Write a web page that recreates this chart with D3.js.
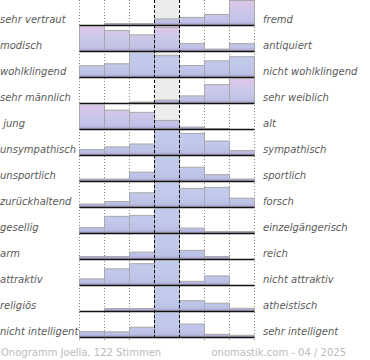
<!DOCTYPE html>
<html><head><meta charset="utf-8">
<script src="https://cdn.jsdelivr.net/npm/d3@7"></script>
<style>body{margin:0;background:#fff}svg{display:block}text{white-space:pre}</style>
</head><body><div id="chart"></div>
<script>
const leftLabels = ["sehr vertraut","modisch","wohlklingend","sehr männlich"," jung","unsympathisch","unsportlich","zurückhaltend","gesellig","arm","attraktiv","religiös","nicht intelligent"];
const rightLabels = ["fremd","antiquiert","nicht wohlklingend","sehr weiblich","alt","sympathisch","sportlich","forsch","einzelgängerisch","reich","nicht attraktiv","atheistisch","sehr intelligent"];
const bins = [0,1,2,3,4,5,6];
// relative bar heights per row (100 = most chosen answer of that row)
const row0 = [0, 6, 6, 25, 31, 43, 100];
const row1 = [100, 84, 66, 97, 31, 8, 30];
const row2 = [46, 54, 100, 87, 47, 66, 83];
const row3 = [0, 0, 4, 12, 29, 75, 100];
const row4 = [100, 77, 68, 35, 8, 2, 0];
const row5 = [22, 33, 45, 100, 88, 57, 18];
const row6 = [8, 8, 36, 100, 56, 26, 8];
const row7 = [12, 22, 58, 100, 76, 80, 36];
const row8 = [22, 68, 72, 100, 20, 6, 6];
const row9 = [10, 10, 28, 100, 35, 10, 0];
const row10 = [25, 66, 87, 100, 15, 37, 0];
const row11 = [0, 10, 10, 100, 42, 32, 11];
const row12 = [22, 21, 40, 100, 53, 11, 7];
const rows = [row0,row1,row2,row3,row4,row5,row6,row7,row8,row9,row10,row11,row12];
const footerLeft = "Onogramm Joella, 122 Stimmen";
const footerRight = "onomastik.com - 04 / 2025";

const W = 370, H = 360;
const svg = d3.select("#chart").append("svg").attr("width", W).attr("height", H);
const defs = svg.append("defs");

const x = d3.scaleBand().domain(bins).range([79.5, 254.5]).padding(0);
const rowBand = d3.scaleBand().domain(d3.range(rows.length)).range([0, 26 * rows.length]).padding(0);
const h = d3.scaleLinear().domain([0, 100]).range([0, 24.5]);
const base = i => rowBand(i) + 25;
const gridBottom = base(rows.length - 1) + 2;

// middle column shading
svg.append("rect").attr("x", x(3)).attr("y", 0).attr("width", x.bandwidth())
  .attr("height", gridBottom).attr("fill", "#ececec");

// dotted grid lines
const edges = bins.map(i => x(i)).concat([x(6) + x.bandwidth()]);
svg.selectAll("line.dot").data(edges.filter((e, i) => i !== 3 && i !== 4)).enter().append("line")
  .attr("class", "dot")
  .attr("x1", d => d).attr("x2", d => d).attr("y1", 0).attr("y2", gridBottom + 1)
  .attr("stroke", "#888").attr("stroke-width", 1).attr("stroke-dasharray", "1,2");

// row tint: strongly skewed rows are pinker
function skew(r) {
  const s = d3.sum(r), m = d3.sum(r, (v, i) => v * i) / s;
  return Math.abs(m - 3);
}

const font = "DejaVu Sans";
rows.forEach((r, ri) => {
  const B = base(ri), top = rowBand(ri);
  const pink = skew(r) > 0.85;
  const g = defs.append("linearGradient").attr("id", "g" + ri)
    .attr("gradientUnits", "userSpaceOnUse").attr("x1", 0).attr("x2", 0).attr("y1", top).attr("y2", B);
  const stops = pink
    ? [[0, "#e0c6e6"], [0.45, "#ccc8ea"], [0.88, "#bfc2e6"], [1, "#a496cc"]]
    : [[0, "#c1cbed"], [0.5, "#c2c9eb"], [0.88, "#bbc1e5"], [1, "#a496cc"]];
  stops.forEach(s => g.append("stop").attr("offset", s[0]).attr("stop-color", s[1]));

  const gr = svg.append("g").attr("class", "row");
  const data = r.map((v, i) => ({v, i})).filter(d => d.v > 0);
  gr.selectAll("rect").data(data).enter().append("rect")
    .attr("x", d => x(d.i)).attr("y", d => B - h(d.v))
    .attr("width", x.bandwidth()).attr("height", d => h(d.v))
    .attr("fill", "url(#g" + ri + ")")
    .attr("stroke", "#a8a8a8").attr("stroke-width", 1);
  gr.append("line").attr("x1", x(0)).attr("x2", x(6) + x.bandwidth())
    .attr("y1", B + 0.5).attr("y2", B + 0.5).attr("stroke", "#111").attr("stroke-width", 1.5);
  gr.append("text").attr("x", 0).attr("y", B - 2).text(leftLabels[ri])
    .attr("font-family", font).attr("font-style", "italic").attr("font-size", 10).attr("fill", "#5a5a5a");
  gr.append("text").attr("x", 263).attr("y", B - 2).text(rightLabels[ri])
    .attr("font-family", font).attr("font-style", "italic").attr("font-size", 10).attr("fill", "#5a5a5a");
});

// dashed middle lines on top
svg.selectAll("line.dash").data([x(3), x(4)]).enter().append("line")
  .attr("class", "dash")
  .attr("x1", d => d).attr("x2", d => d).attr("y1", 0).attr("y2", gridBottom)
  .attr("stroke", "#000").attr("stroke-width", 1).attr("stroke-dasharray", "3,2");

// footer
svg.append("text").attr("x", 1).attr("y", 356).text(footerLeft)
  .attr("font-family", font).attr("font-size", 10).attr("fill", "#bbb");
svg.append("text").attr("x", 346).attr("y", 356).attr("text-anchor", "end").text(footerRight)
  .attr("font-family", font).attr("font-size", 10).attr("fill", "#bbb");
</script></body></html>
